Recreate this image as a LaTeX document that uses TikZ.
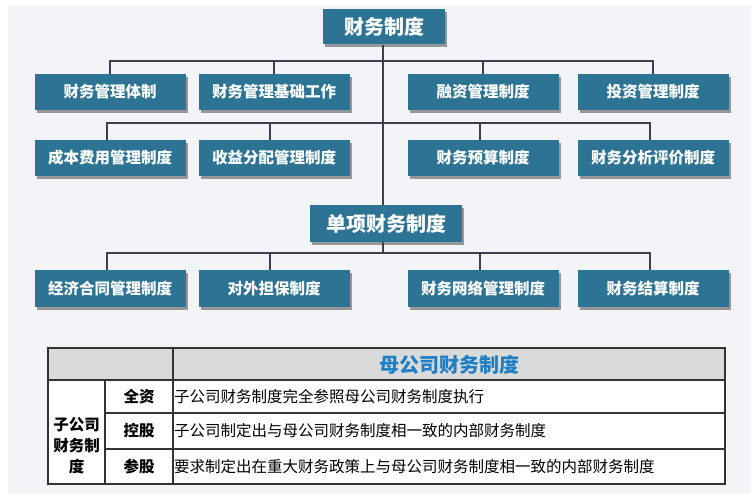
\documentclass[tikz,border=0pt]{standalone}
\usepackage{fontspec}
\newfontfamily\cjk{Noto Sans CJK SC}
\usetikzlibrary{shadows}
\definecolor{boxc}{HTML}{2D7393}
\definecolor{linec}{HTML}{3B3F4F}
\definecolor{panel}{HTML}{F3F4F7}
\definecolor{headc}{HTML}{DADADA}
\definecolor{bluet}{HTML}{1F7FC4}
\definecolor{tabl}{HTML}{333333}
\tikzset{
  box/.style={fill=boxc, text=white, font=\cjk\bfseries\fontsize{15.5}{18}\selectfont,
    minimum width=151, minimum height=36, inner sep=0pt,
    drop shadow={shadow xshift=2pt, shadow yshift=-3pt, fill=black!70, opacity=0.55}},
  bigbox/.style={box, font=\cjk\bfseries\fontsize{20}{22}\selectfont},
  conn/.style={draw=linec, line width=2pt},
  tline/.style={draw=tabl, line width=1.4pt},
  celltxt/.style={font=\cjk\fontsize{15.5}{18}\selectfont, text=black, inner sep=0pt, anchor=west},
  lbltxt/.style={font=\cjk\bfseries\fontsize{15.5}{18}\selectfont, text=black, inner sep=0pt}
}
\begin{document}
\begin{tikzpicture}[x=1pt,y=-1pt]
\useasboundingbox (0,0) rectangle (755,500);
\fill[white] (0,0) rectangle (755,500);
\fill[panel] (8,6) rectangle (751,494);

% nodes
\node[bigbox, minimum width=122, minimum height=35] (top) at (384,27) {财务制度};
\node[box] (a1) at (110,92) {财务管理体制};
\node[box] (a2) at (274,92) {财务管理基础工作};
\node[box] (a3) at (483,92) {融资管理制度};
\node[box] (a4) at (653,92) {投资管理制度};
\node[box] (b1) at (110,158) {成本费用管理制度};
\node[box] (b2) at (274,158) {收益分配管理制度};
\node[box] (b3) at (483,158) {财务预算制度};
\node[box] (b4) at (653,158) {财务分析评价制度};
\node[bigbox, minimum width=152, minimum height=37] (single) at (386,223.5) {单项财务制度};
\node[box, minimum height=37] (c1) at (110,288.5) {经济合同管理制度};
\node[box, minimum height=37] (c2) at (274,288.5) {对外担保制度};
\node[box, minimum height=37] (c3) at (483,288.5) {财务网络管理制度};
\node[box, minimum height=37] (c4) at (653,288.5) {财务结算制度};

% connectors
\coordinate (t1) at (383,61);
\coordinate (t2) at (383,123);
\coordinate (t3) at (383,253);
\path[conn] (a1.north) -- ++(0,-13) -| (a4.north);
\path[conn] (a2.north) -- (a2.north |- t1);
\path[conn] (a3.north) -- (a3.north |- t1);
\path[conn] ([xshift=-3pt]b1.north) -- ++(0,-17) -| ([xshift=-3pt]b4.north);
\path[conn] ([xshift=-4pt]b2.north) -- ([xshift=-4pt]b2.north |- t2);
\path[conn] ([xshift=-3pt]b3.north) -- ([xshift=-3pt]b3.north |- t2);
\path[conn] (top.south -| t1) -- (single.north -| t1);
\path[conn] (single.south -| t3) -- (t3);
\path[conn] ([xshift=-3pt]c1.north) -- ++(0,-17) -| ([xshift=-3pt]c4.north);
\path[conn] ([xshift=-4pt]c2.north) -- ([xshift=-4pt]c2.north |- t3);
\path[conn] ([xshift=-3pt]c3.north) -- ([xshift=-3pt]c3.north |- t3);

% table
\fill[white] (48,380) rectangle (725,484);
\fill[headc] (48,348) rectangle (725,380);
\path[tline] (48,348) rectangle (725,484);
\path[tline] (48,380) -- (725,380);
\path[tline] (105,413) -- (725,413);
\path[tline] (105,449) -- (725,449);
\path[tline] (173,348) -- (173,484);
\path[tline] (105,380) -- (105,484);

\node[font=\cjk\bfseries\fontsize{20}{22}\selectfont, text=bluet, inner sep=0pt] (hd) at (449,365) {母公司财务制度};
\node[lbltxt, align=center, font=\cjk\bfseries\fontsize{15.5}{21}\selectfont] (sub) at (76.5,446) {子公司\\财务制\\度};
\node[lbltxt] (l1) at (139,397) {全资};
\node[lbltxt] (l2) at (139,431) {控股};
\node[lbltxt] (l3) at (139,466.5) {参股};
\node[celltxt] (r1) at (174,397) {子公司财务制度完全参照母公司财务制度执行};
\node[celltxt] (r2) at (174,431) {子公司制定出与母公司财务制度相一致的内部财务制度};
\node[celltxt] (r3) at (174,466.5) {要求制定出在重大财务政策上与母公司财务制度相一致的内部财务制度};
\end{tikzpicture}
\end{document}
